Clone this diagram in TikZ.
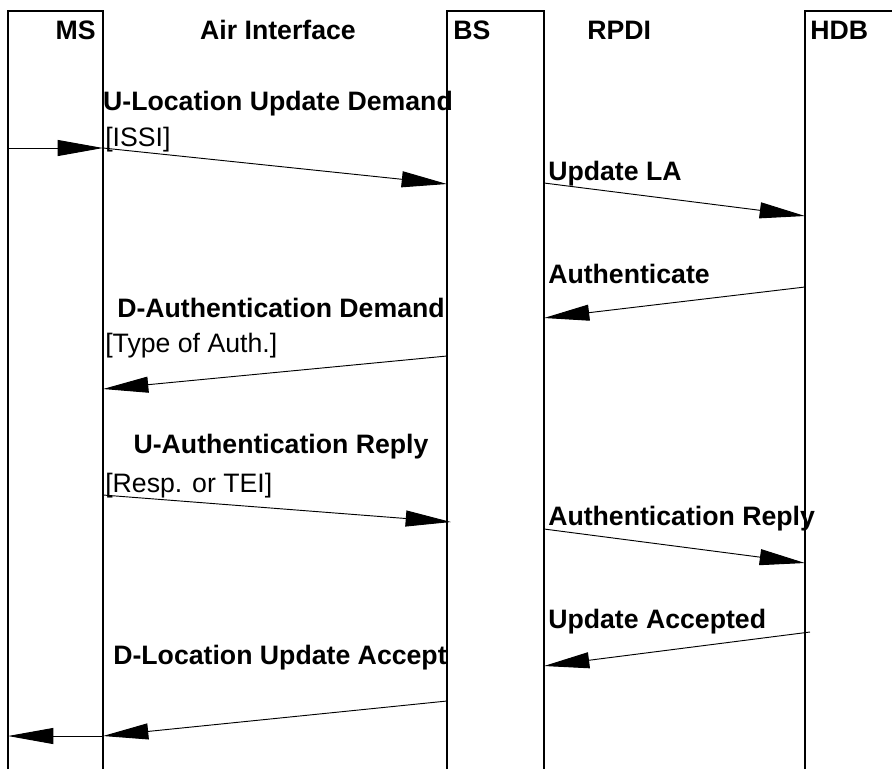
\documentclass[tikz,border=0pt]{standalone}
\usepackage{fontspec}
\setmainfont{Liberation Sans}
\usetikzlibrary{arrows.meta}
\begin{document}
\begin{tikzpicture}[x=0.75pt,y=-0.75pt,
  life/.style={line width=1.6pt},
  msg/.style={line width=0.7pt,-{Triangle[length=34pt,width=12pt]}},
  hdr/.style={inner sep=0pt,font=\fontsize{20}{24}\selectfont\bfseries},
  lbl/.style={inner sep=0pt,font=\fontsize{20}{24}\selectfont\bfseries},
  par/.style={inner sep=0pt,font=\fontsize{20}{24}\selectfont}]
\useasboundingbox (0,0) rectangle (892,769);
% lifelines and boxes
\draw[life] (8,769) -- (8,11) -- (103,11) -- (103,769);
\draw[life] (447,769) -- (447,11) -- (544,11) -- (544,769);
\draw[life] (805,769) -- (805,11) -- (893,11);
% headers
\node[hdr,anchor=base east] (hms) at (96,39) {MS};
\node[hdr,anchor=base] (hair) at (278,39) {Air Interface};
\node[hdr,anchor=base west] (hbs) at (453,39) {BS};
\node[hdr,anchor=base west] (hrpdi) at (587,39) {RPDI};
\node[hdr,anchor=base west] (hhdb) at (810,39) {HDB};
% coordinates
\coordinate (a0) at (8,148);
\coordinate (a1) at (103,148);
\coordinate (a2) at (447,184);
\coordinate (b1) at (544,183);
\coordinate (b2) at (805,216);
\coordinate (c1) at (805,287);
\coordinate (c2) at (544,318);
\coordinate (d1) at (447,356);
\coordinate (d2) at (103,389);
\coordinate (e1) at (103,495);
\coordinate (e2) at (451,522);
\coordinate (f1) at (544,529);
\coordinate (f2) at (805,563);
\coordinate (g1) at (810,632);
\coordinate (g2) at (544,666);
\coordinate (h1) at (447,701);
\coordinate (h2) at (103,736);
\coordinate (h3) at (8,736);
% messages
\draw[msg] (a0) -- (a1);
\draw[msg] (a1) -- (a2);
\draw[msg] (b1) -- (b2);
\draw[msg] (c1) -- (c2);
\draw[msg] (d1) -- (d2);
\draw[msg] (e1) -- (e2);
\draw[msg] (f1) -- (f2);
\draw[msg] (g1) -- (g2);
\draw[msg] (h1) -- (h2);
\draw[msg] (h2) -- (h3);
% labels
\node[lbl,anchor=base] (l1) at (278,110) {U-Location Update Demand};
\node[par,anchor=base west] (p1) at (105,146) {[ISSI]};
\node[lbl,anchor=base west] (l2) at (548,180) {Update LA};
\node[lbl,anchor=base west] (l3) at (548,283) {Authenticate};
\node[lbl,anchor=base] (l4) at (281,317) {D-Authentication Demand};
\node[par,anchor=base west] (p4) at (105,352) {[Type of Auth.]};
\node[lbl,anchor=base] (l5) at (281,453) {U-Authentication Reply};
\node[par,anchor=base west] (p5) at (105,492) {[Resp. or TEI]};
\node[lbl,anchor=base west] (l6) at (548,525) {Authentication Reply};
\node[lbl,anchor=base west] (l7) at (548,628) {Update Accepted};
\node[lbl,anchor=base] (l8) at (280,664) {D-Location Update Accept};
\end{tikzpicture}
\end{document}
